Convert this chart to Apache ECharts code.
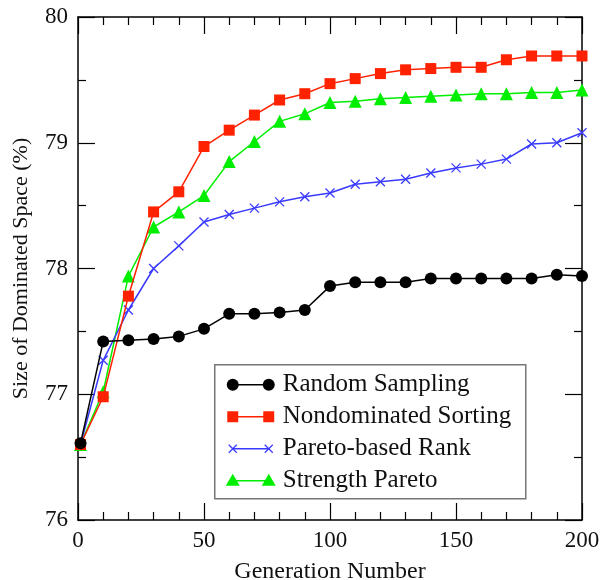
<!DOCTYPE html>
<html lang="en">
<head>
  <meta charset="UTF-8">
  <title>Size of Dominated Space</title>
  <style>
    * { margin: 0; padding: 0; }
    body { background: #fff; }
    #chart { width: 602px; height: 580px; }
  </style>
</head>
<body>
  <div id="chart"></div>
</body>
<script src="https://cdn.jsdelivr.net/npm/echarts@6/dist/echarts.min.js"></script>
<script>
  // generations sampled
  const generations = [1, 10, 20, 30, 40, 50, 60, 70, 80, 90, 100, 110, 120, 130, 140, 150, 160, 170, 180, 190, 200]

  const randomSampling = [76.61, 77.42, 77.43, 77.44, 77.46, 77.52, 77.64, 77.64, 77.65, 77.67, 77.86, 77.89, 77.89, 77.89, 77.92, 77.92, 77.92, 77.92, 77.92, 77.95, 77.94]
  const nondominatedSorting = [76.60, 76.98, 77.78, 78.45, 78.61, 78.97, 79.10, 79.22, 79.34, 79.39, 79.47, 79.51, 79.55, 79.58, 79.59, 79.60, 79.60, 79.66, 79.69, 79.69, 79.69]
  const paretoRank = [76.60, 77.27, 77.67, 78.00, 78.18, 78.37, 78.43, 78.48, 78.53, 78.57, 78.60, 78.67, 78.69, 78.71, 78.76, 78.80, 78.83, 78.87, 78.99, 79.00, 79.08]
  const strengthPareto = [76.60, 77.02, 77.94, 78.33, 78.45, 78.58, 78.85, 79.01, 79.17, 79.23, 79.32, 79.33, 79.35, 79.36, 79.37, 79.38, 79.39, 79.39, 79.40, 79.40, 79.42]

  const seriesNames = ['Random Sampling', 'Nondominated Sorting', 'Pareto-based Rank', 'Strength Pareto']
  const seriesColors = ['#000000', '#ff2200', '#3a3aff', '#00ee00']
  const crossPath = 'path://M0,0L10,10M10,0L0,10'
  const seriesSymbols = ['circle', 'rect', crossPath, 'triangle']
  const seriesSizes = [12, 11, 9, 13]
  const allValues = [randomSampling, nondominatedSorting, paretoRank, strengthPareto]

  const font = 'Liberation Serif'

  function pair(vals) {
    return generations.map((g, i) => [g, vals[i]])
  }

  const baseAxis = {
    axisLine: { show: true, onZero: false, lineStyle: { color: '#000', width: 1.5 } },
    axisTick: { show: true, inside: true, length: 17, lineStyle: { color: '#000', width: 1.2 } },
    minorTick: { show: true, length: 8, lineStyle: { color: '#000', width: 1.2 } },
    splitLine: { show: false },
    minorSplitLine: { show: false }
  }

  const xCommon = Object.assign({}, baseAxis, { type: 'value', min: 0, max: 200, interval: 50 })
  xCommon.minorTick = Object.assign({}, baseAxis.minorTick, { splitNumber: 5 })
  const yCommon = Object.assign({}, baseAxis, { type: 'value', min: 76, max: 80, interval: 1 })
  yCommon.minorTick = Object.assign({}, baseAxis.minorTick, { splitNumber: 2 })

  const chart = echarts.init(document.getElementById('chart'))

  // legend drawn by hand: line with a marker at each end
  const legendChildren = [{
    type: 'rect',
    shape: { x: 0, y: 0, width: 311, height: 134 },
    style: { fill: '#fff', stroke: '#777', lineWidth: 1.5 }
  }]
  seriesNames.forEach((name, i) => {
    const cy = 20 + i * 32
    const c = seriesColors[i]
    legendChildren.push({
      type: 'line',
      shape: { x1: 18, y1: cy, x2: 54, y2: cy },
      style: { stroke: c, lineWidth: 1.5 }
    })
    ;[18, 54].forEach(cx => {
      if (i === 0) {
        legendChildren.push({ type: 'circle', shape: { cx: cx, cy: cy, r: 6 }, style: { fill: c } })
      } else if (i === 1) {
        legendChildren.push({ type: 'rect', shape: { x: cx - 5.5, y: cy - 5.5, width: 11, height: 11 }, style: { fill: c } })
      } else if (i === 2) {
        legendChildren.push({ type: 'line', shape: { x1: cx - 4, y1: cy - 4, x2: cx + 4, y2: cy + 4 }, style: { stroke: c, lineWidth: 1.3 } })
        legendChildren.push({ type: 'line', shape: { x1: cx - 4, y1: cy + 4, x2: cx + 4, y2: cy - 4 }, style: { stroke: c, lineWidth: 1.3 } })
      } else {
        legendChildren.push({ type: 'polygon', shape: { points: [[cx, cy - 7], [cx - 7, cy + 5], [cx + 7, cy + 5]] }, style: { fill: c } })
      }
    })
    legendChildren.push({
      type: 'text',
      style: { text: name, x: 68, y: cy, fill: '#111', font: '25px "' + font + '"', verticalAlign: 'middle' }
    })
  })

  chart.setOption({
    animation: false,
    backgroundColor: '#fff',
    grid: { left: 78, right: 20, top: 17, bottom: 60, outerBoundsMode: 'none' },
    xAxis: [
      Object.assign({}, xCommon, {
        position: 'bottom',
        name: 'Generation Number',
        nameLocation: 'middle',
        nameGap: 40,
        nameTextStyle: { fontFamily: font, fontSize: 24, color: '#111' },
        axisLabel: { fontFamily: font, fontSize: 23, color: '#111', margin: 9 }
      }),
      Object.assign({}, xCommon, { position: 'top', axisLabel: { show: false } })
    ],
    yAxis: [
      Object.assign({}, yCommon, {
        position: 'left',
        name: 'Size of Dominated Space (%)',
        nameLocation: 'middle',
        nameGap: 46,
        nameTextStyle: { fontFamily: font, fontSize: 22, color: '#111' },
        axisLabel: { fontFamily: font, fontSize: 23, color: '#111', margin: 10 }
      }),
      Object.assign({}, yCommon, { position: 'right', axisLabel: { show: false } })
    ],
    graphic: [{
      type: 'group',
      left: 214,
      top: 364,
      z: 100,
      children: legendChildren
    }],
    series: seriesNames.map((name, i) => ({
      name: name,
      type: 'line',
      data: pair(allValues[i]),
      symbol: seriesSymbols[i],
      symbolSize: seriesSizes[i],
      showAllSymbol: true,
      z: 2 + (3 - i),
      lineStyle: { color: seriesColors[i], width: 1.5 },
      itemStyle: {
        color: seriesColors[i],
        borderColor: seriesColors[i],
        borderWidth: i === 2 ? 1.3 : 0
      }
    }))
  })
</script>
</html>
